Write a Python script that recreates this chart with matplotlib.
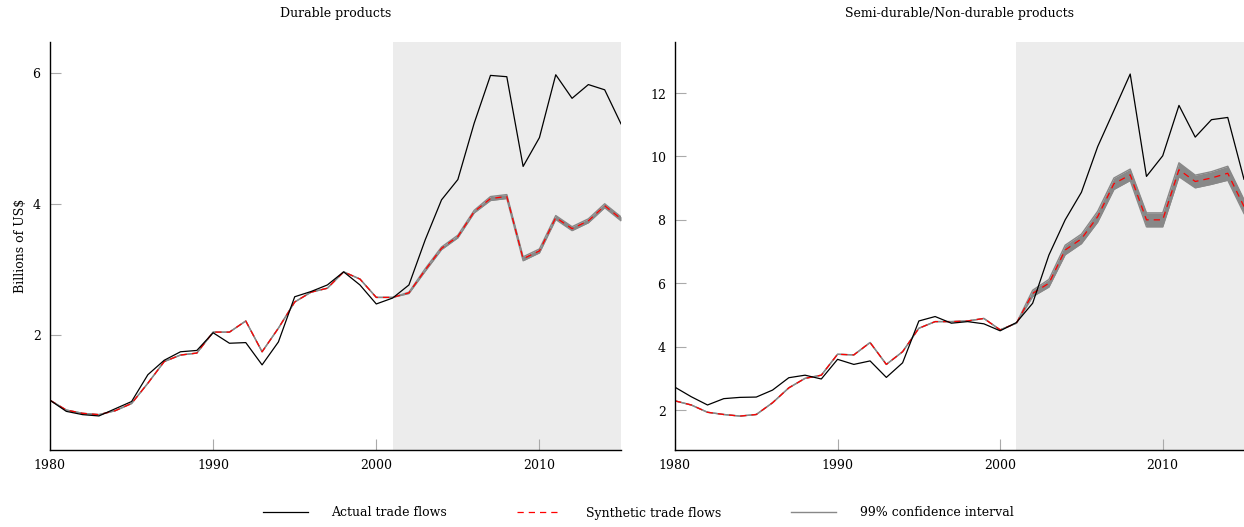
import matplotlib
matplotlib.use("Agg")
import matplotlib.pyplot as plt
import numpy as np
from matplotlib.lines import Line2D

plt.rcParams['font.family'] = ['DejaVu Serif']
plt.rcParams['axes.formatter.use_mathtext'] = True

years = list(range(1980, 2016))

durable_actual = [1.00, 0.83, 0.78, 0.76, 0.87, 0.98, 1.39, 1.61, 1.74, 1.76,
                  2.03, 1.87, 1.88, 1.54, 1.89, 2.58, 2.66, 2.76, 2.96, 2.76,
                  2.47, 2.56, 2.76, 3.45, 4.06, 4.37, 5.23, 5.96, 5.94, 4.57,
                  5.01, 5.97, 5.61, 5.82, 5.74, 5.22]
durable_synth = [1.00, 0.85, 0.80, 0.78, 0.84, 0.95, 1.26, 1.59, 1.69, 1.72,
                 2.04, 2.04, 2.21, 1.74, 2.10, 2.50, 2.65, 2.71, 2.96, 2.85,
                 2.57, 2.57, 2.64, 2.99, 3.32, 3.50, 3.88, 4.08, 4.11, 3.16,
                 3.28, 3.79, 3.62, 3.74, 3.97, 3.77]
durable_ci_half = [0.0] * 22 + [0.01, 0.02, 0.02, 0.02, 0.02, 0.03, 0.03, 0.03,
                                0.03, 0.03, 0.03, 0.03, 0.03, 0.03]

nondur_actual = [2.72, 2.42, 2.16, 2.36, 2.40, 2.41, 2.63, 3.02, 3.10, 2.98,
                 3.60, 3.44, 3.55, 3.03, 3.49, 4.81, 4.95, 4.74, 4.79, 4.72,
                 4.50, 4.76, 5.37, 6.89, 8.00, 8.87, 10.31, 11.45, 12.60, 9.37,
                 10.02, 11.61, 10.61, 11.16, 11.23, 9.28]
nondur_synth = [2.29, 2.16, 1.93, 1.86, 1.81, 1.86, 2.23, 2.70, 3.00, 3.10,
                3.76, 3.74, 4.13, 3.44, 3.84, 4.58, 4.79, 4.79, 4.81, 4.89,
                4.53, 4.74, 5.68, 6.00, 7.05, 7.40, 8.10, 9.14, 9.42, 8.00,
                8.00, 9.58, 9.21, 9.32, 9.47, 8.42]
nondur_ci_half = [0.0] * 22 + [0.10, 0.12, 0.15, 0.15, 0.17, 0.18, 0.18, 0.22,
                               0.22, 0.22, 0.20, 0.20, 0.22, 0.22]

titles = ["Durable products", "Semi-durable/Non-durable products"]
treat_start = 2001

fig = plt.figure(figsize=(12.44, 5.27), dpi=100)
ax1 = fig.add_axes([50/1244, 1-450/527, 571/1244, 408/527])
ax2 = fig.add_axes([675/1244, 1-450/527, 569/1244, 408/527])

panels = [
    (ax1, durable_actual, durable_synth, durable_ci_half, (0.24, 6.47), [2, 4, 6]),
    (ax2, nondur_actual, nondur_synth, nondur_ci_half, (0.74, 13.61), [2, 4, 6, 8, 10, 12]),
]

FS = 9
DASH = (0, (5, 4))
x = np.array(years)
for (ax, act, syn, ci, ylim, yt), title in zip(panels, titles):
    act = np.array(act); syn = np.array(syn); ci = np.array(ci)
    ax.axvspan(treat_start, 2015, color='#ececec', lw=0, zorder=0)
    ax.fill_between(x, syn - ci, syn + ci, color='#888888', lw=0, zorder=1)
    ax.plot(x, syn - ci, color='#888888', lw=1.0, zorder=2)
    ax.plot(x, syn + ci, color='#888888', lw=1.0, zorder=2)
    ax.plot(x, syn, color='#ff0000', lw=0.9, ls=DASH, zorder=3)
    ax.plot(x, act, color='black', lw=0.9, zorder=4)
    ax.set_xlim(1980, 2015)
    ax.set_ylim(*ylim)
    ax.set_xticks([1980, 1990, 2000, 2010])
    ax.set_yticks(yt)
    for s in ['top', 'right']:
        ax.spines[s].set_visible(False)
    for s in ['left', 'bottom']:
        ax.spines[s].set_linewidth(1.0)
        ax.spines[s].set_zorder(5)
    ax.tick_params(direction='in', length=8, width=0.8, color='#aaaaaa',
                   labelsize=FS, pad=6)
    ax.set_title(title, fontsize=FS, pad=18)

ax1.set_ylabel("Billions of US\\$", fontsize=FS)
ax1.yaxis.set_label_coords(-23/571, 0.5)

handles = [
    Line2D([], [], color='black', lw=0.9),
    Line2D([], [], color='#ff0000', lw=0.9, ls=DASH),
    Line2D([], [], color='#888888', lw=1.0),
]
labels = ["Actual trade flows", "Synthetic trade flows", "99% confidence interval"]
fig.legend(handles, labels, loc='center', bbox_to_anchor=(638/1244, 1-513/527),
           ncol=3, frameon=False, fontsize=FS, handlelength=3.6, columnspacing=5.6,
           handletextpad=1.9)

fig.savefig("out.png", dpi=100)
